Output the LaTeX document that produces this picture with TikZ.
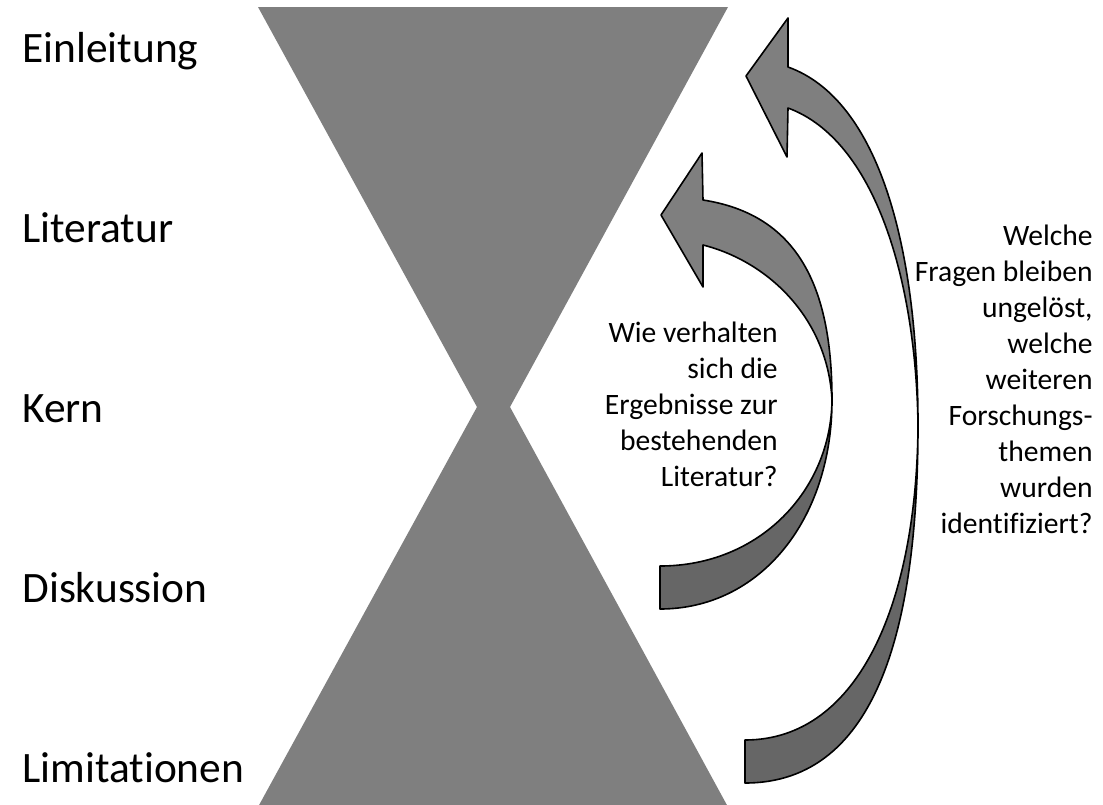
\documentclass[tikz,border=0pt]{standalone}
\usepackage{fontspec}
\setmainfont{Carlito}[Ligatures=NoCommon]
\usetikzlibrary{positioning}
\definecolor{glassgray}{HTML}{7F7F7F}
\definecolor{shaftdark}{HTML}{666666}

\begin{document}
\begin{tikzpicture}[x=0.5pt, y=-0.5pt,
sectionname/.style={anchor=base west, inner sep=0pt, font=\fontsize{21.7}{26}\selectfont},
question/.style={anchor=north east, inner sep=0pt, align=right, font=\fontsize{14.8}{18}\selectfont},
frontpart/.style={draw=black, fill=glassgray, line width=0.8pt, line join=round},
backpart/.style={draw=black, fill=shaftdark, line width=0.8pt, line join=round}
]
    \useasboundingbox (0,0) rectangle (1103,804);

    %Hourglass
    \fill[glassgray] (258,7) -- (728,7) -- (510,407) -- (728,807)
        -- (258,807) -- (477,407) -- cycle;

    %Outer arrow
    \draw[frontpart] (746,76) -- (788,18) -- (788,67)
        .. controls (880,100) and (918,250) .. (918,425)
        .. controls (916,280) and (875,140) .. (788,108)
        -- (787,157) -- cycle;
    \draw[backpart] (918,425)
        .. controls (918,620) and (880,783) .. (745,783)
        -- (745,740)
        .. controls (860,740) and (917,600) .. (918,425) -- cycle;

    %Inner arrow
    \draw[frontpart] (661,215) -- (702,153) -- (703,200)
        .. controls (800,215) and (832,290) .. (832,400)
        .. controls (828,320) and (770,262) .. (703,245)
        -- (703,287) -- cycle;
    \draw[backpart] (832,400)
        .. controls (832,520) and (760,609) .. (660,609)
        -- (660,566)
        .. controls (760,566) and (831,490) .. (832,400) -- cycle;

    %Labels
    \node[sectionname] (einl)  at (22,62)  {Einleitung};
    \node[sectionname] (lit)   at (22,242) {Literatur};
    \node[sectionname] (kern)  at (22,422) {Kern};
    \node[sectionname] (disk)  at (22,602) {Diskussion};
    \node[sectionname] (limit) at (22,782) {Limitationen};

    \node[question] (qlit) at (778,322)
        {Wie verhalten\\sich die\\Ergebnisse zur\\bestehenden\\Literatur?};
    \node[question] (qopen) at (1093,225)
        {Welche\\Fragen bleiben\\ungelöst,\\welche\\weiteren\\Forschungs-\\themen\\wurden\\identifiziert?};
\end{tikzpicture}
\end{document}
